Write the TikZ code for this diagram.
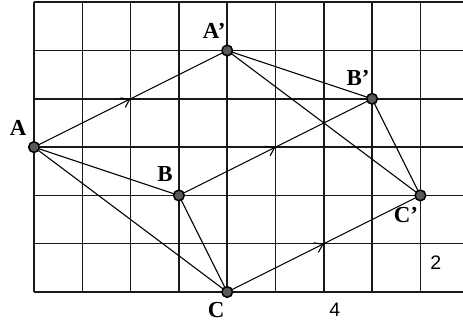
\documentclass[tikz,border=0pt]{standalone}
\usepackage{fontspec}
\setmainfont{Liberation Serif}
\newfontfamily\numfont{Liberation Sans}
\usetikzlibrary{decorations.markings,arrows.meta}
\begin{document}
\begin{tikzpicture}[x=1cm,y=1cm,
  gridline/.style={line width=0.85pt,black!90},
  seg/.style={line width=0.65pt,black},
  vec/.style={seg,postaction={decorate},decoration={markings,mark=at position 0.5 with {\arrow{Straight Barb[length=1.6mm,width=2.2mm]}}}},
  pt/.style={circle,draw=black,fill=black!65,line width=0.9pt,inner sep=0pt,minimum size=2.2mm},
  lbl/.style={font=\fontsize{13.5}{15}\selectfont\bfseries},
  num/.style={font=\numfont\fontsize{11.5}{13}\selectfont}]
\useasboundingbox (-0.704,-0.6) rectangle (8.882,6.046);
\fill[white] (-0.704,-0.6) rectangle (8.882,6.046);
% grid
\foreach \y in {0,...,6} \draw[gridline] (0,\y) -- (8.882,\y);
\foreach \x in {0,...,8} \draw[gridline] (\x,0) -- (\x,6);
% points
\coordinate (A) at (0,3);
\coordinate (B) at (3,2);
\coordinate (C) at (4,0);
\coordinate (A') at (4,5);
\coordinate (B') at (7,4);
\coordinate (C') at (8,2);
% triangles
\draw[seg] (A) -- (B) -- (C) -- cycle;
\draw[seg] (A') -- (B') -- (C') -- cycle;
% translation vectors
\draw[vec] (A) -- (A');
\draw[vec] (B) -- (B');
\draw[vec] (C) -- (C');
% dots
\foreach \p in {A,B,C,A',B',C'} \node[pt] (n\p) at (\p) {};
% labels
\node[lbl] (lA) at (-0.33,3.40) {A};
\node[lbl] (lAp) at (3.73,5.40) {A’};
\node[lbl] (lB) at (2.71,2.44) {B};
\node[lbl] (lBp) at (6.71,4.43) {B’};
\node[lbl] (lC) at (3.77,-0.37) {C};
\node[lbl] (lCp) at (7.70,1.59) {C’};
\node[num] (n2) at (8.32,0.60) {2};
\node[num] (n4) at (6.23,-0.37) {4};
\end{tikzpicture}
\end{document}
